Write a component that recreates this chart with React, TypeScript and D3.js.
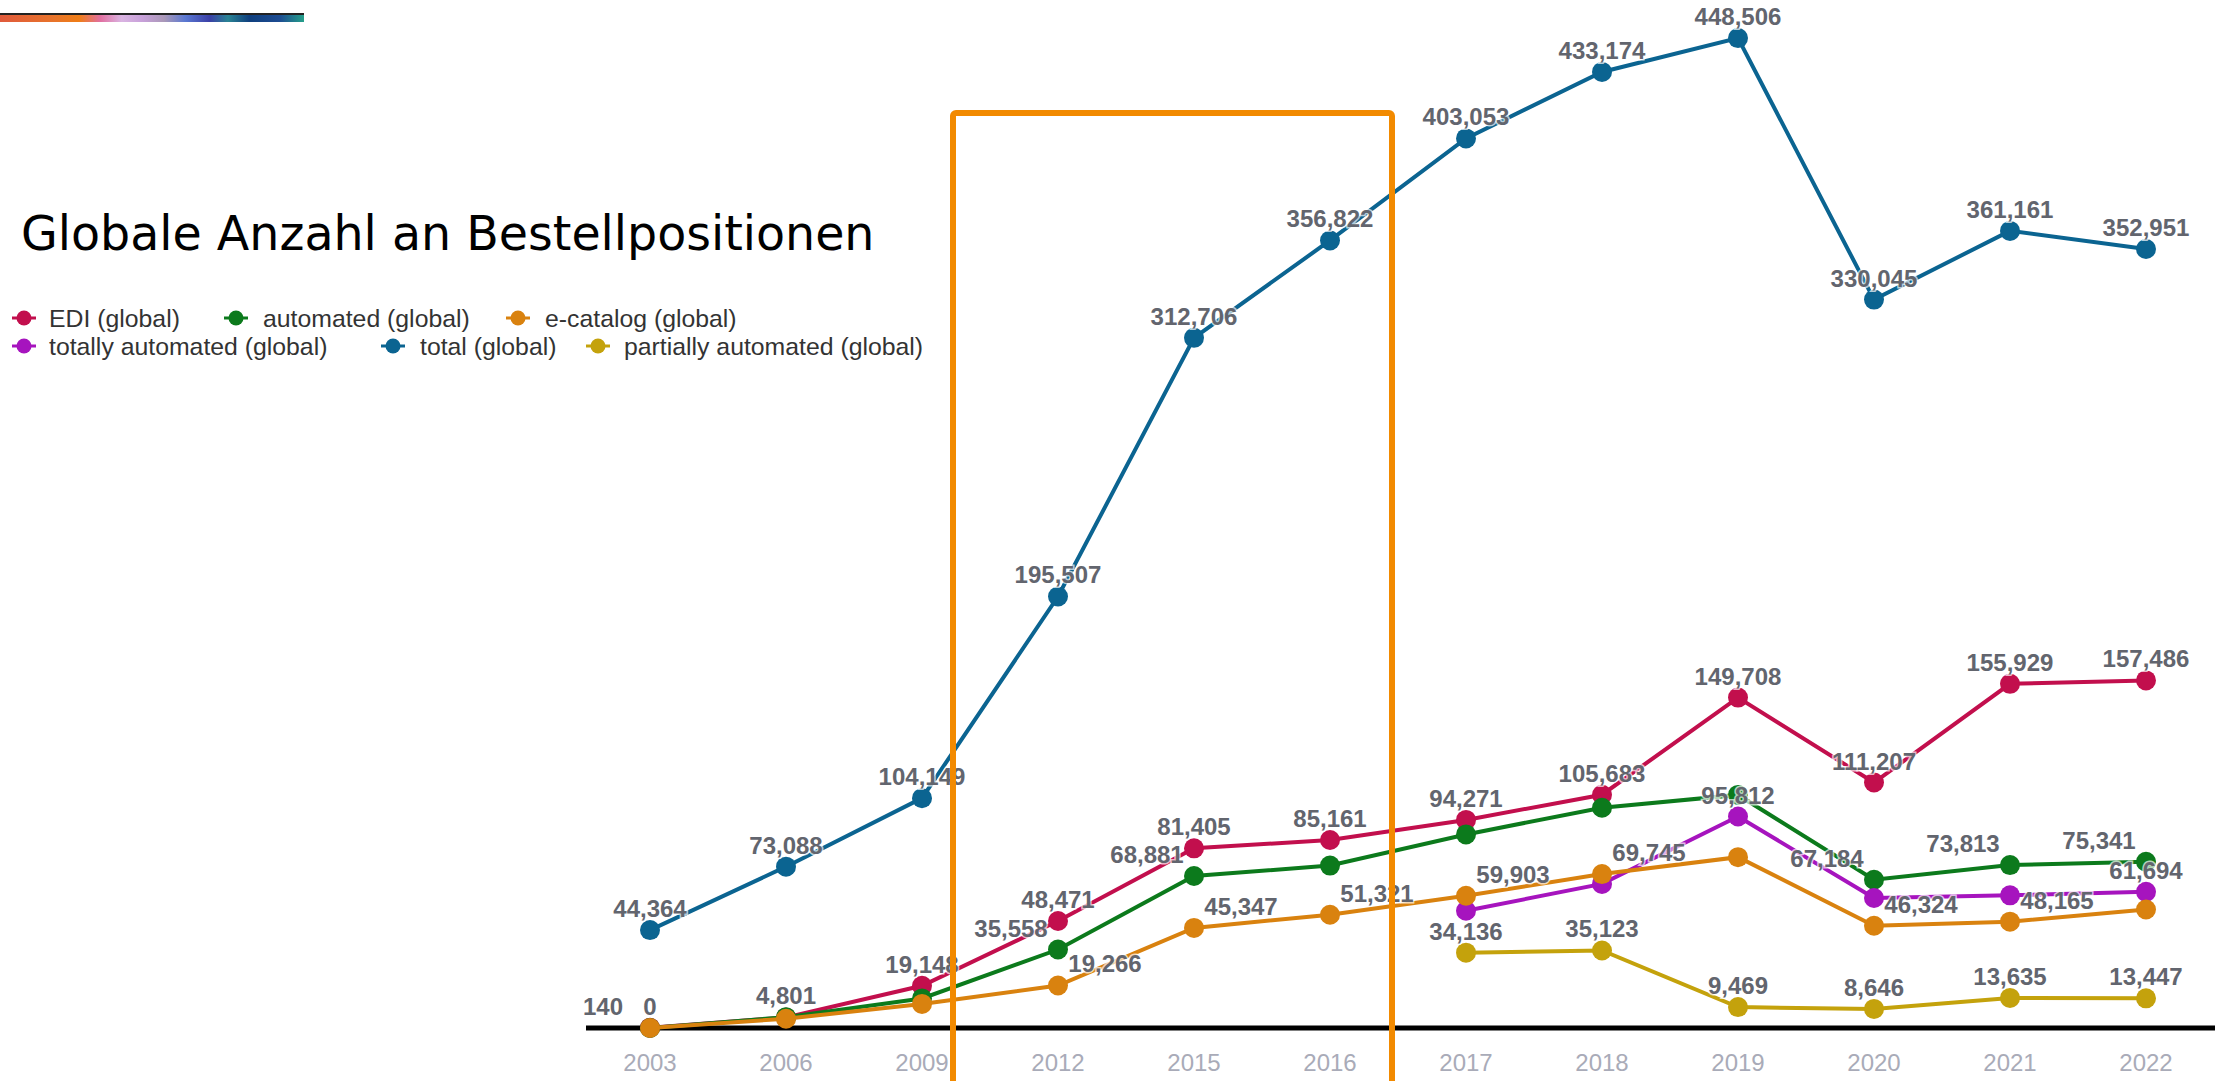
import React, { useEffect } from "react";
import * as d3 from "d3";

const years = ["2003", "2006", "2009", "2012", "2015", "2016", "2017", "2018", "2019", "2020", "2021", "2022"];
const totalGlobal = [44364, 73088, 104149, 195507, 312706, 356822, 403053, 433174, 448506, 330045, 361161, 352951];
const ediGlobal = [140, 4801, 19148, 48471, 81405, 85161, 94271, 105683, 149708, 111207, 155929, 157486];
const automatedGlobal = [0, 4900, 13400, 35558, 68881, 73600, 87700, 99800, 105600, 67184, 73813, 75341];
const eCatalogGlobal = [0, 4200, 10900, 19266, 45347, 51321, 59903, 69745, 77400, 46324, 48165, 53700];
const totallyAutomatedGlobal = [null, null, null, null, null, null, 53100, 65300, 95812, 58900, 60100, 61694];
const partiallyAutomatedGlobal = [null, null, null, null, null, null, 34136, 35123, 9469, 8646, 13635, 13447];

// label placement per point: c = above, l = above-left, r = above-right, "" = hidden
const totalLabels = ["c", "c", "c", "c", "c", "c", "c", "c", "c", "c", "c", "c"];
const ediLabels = ["l", "c", "c", "c", "c", "c", "c", "c", "c", "c", "c", "c"];
const automatedLabels = ["", "", "", "l", "l", "", "", "", "", "l", "l", "l"];
const eCatalogLabels = ["c", "", "", "r", "r", "r", "r", "r", "", "r", "r", ""];
const totallyLabels = ["", "", "", "", "", "", "", "", "c", "", "", "c"];
const partiallyLabels = ["", "", "", "", "", "", "c", "c", "c", "c", "c", "c"];

const seriesNames = [
  "EDI (global)",
  "automated (global)",
  "e-catalog (global)",
  "totally automated (global)",
  "total (global)",
  "partially automated (global)",
];
const seriesColors = ["#c20f4d", "#0c7a1c", "#d9820f", "#a614be", "#0b6491", "#c4a20c"];

type Series = { name: string; color: string; values: (number | null)[]; labels: string[] };

const series: Series[] = [
  { name: seriesNames[4], color: seriesColors[4], values: totalGlobal, labels: totalLabels },
  { name: seriesNames[0], color: seriesColors[0], values: ediGlobal, labels: ediLabels },
  { name: seriesNames[1], color: seriesColors[1], values: automatedGlobal, labels: automatedLabels },
  { name: seriesNames[3], color: seriesColors[3], values: totallyAutomatedGlobal, labels: totallyLabels },
  { name: seriesNames[2], color: seriesColors[2], values: eCatalogGlobal, labels: eCatalogLabels },
  { name: seriesNames[5], color: seriesColors[5], values: partiallyAutomatedGlobal, labels: partiallyLabels },
];

const W = 2215;
const H = 1081;

export default function App() {
  useEffect(() => {
    document.body.style.margin = "0";
    document.body.style.overflow = "hidden";
  }, []);

  const x = d3.scalePoint<string>().domain(years).range([650, 2146]);
  const y = d3.scaleLinear().domain([0, 450000]).range([1028, 34.8]);
  const fmt = d3.format(",");

  const line = d3
    .line<number | null>()
    .defined((d) => d !== null)
    .x((_, i) => x(years[i]) as number)
    .y((d) => y(d as number));

  const labelDx: Record<string, number> = { c: 0, l: -47, r: 47 };

  const legendItems = [
    { idx: 0, mx: 24, tx: 49, ty: 318 },
    { idx: 1, mx: 236, tx: 263, ty: 318 },
    { idx: 2, mx: 518, tx: 545, ty: 318 },
    { idx: 3, mx: 24, tx: 49, ty: 346 },
    { idx: 4, mx: 393, tx: 420, ty: 346 },
    { idx: 5, mx: 598, tx: 624, ty: 346 },
  ];

  const gradStops = [
    ["0%", "#e05a3c"],
    ["18%", "#e8742a"],
    ["26%", "#ef7d16"],
    ["33%", "#e16fa0"],
    ["40%", "#dab4e2"],
    ["47%", "#c7a0d9"],
    ["54%", "#aa98b8"],
    ["61%", "#5a78d2"],
    ["69%", "#3a3fa6"],
    ["75%", "#2a8494"],
    ["82%", "#0f3f7e"],
    ["92%", "#1d4c92"],
    ["100%", "#25a08a"],
  ];

  return (
    <svg width={W} height={H} style={{ position: "absolute", left: 0, top: 0, background: "#fff" }}>
      <defs>
        <linearGradient id="bar" x1="0" x2="1" y1="0" y2="0">
          {gradStops.map(([o, c]) => (
            <stop key={o} offset={o} stopColor={c} />
          ))}
        </linearGradient>
      </defs>
      <rect x={0} y={13} width={304} height={2} fill="#222" />
      <rect x={0} y={15} width={304} height={7} fill="url(#bar)" />

      <text x={21} y={250} fontFamily="DejaVu Sans" fontSize={47.5} fill="#000">
        Globale Anzahl an Bestellpositionen
      </text>

      {legendItems.map((it) => (
        <g key={it.idx}>
          <line x1={it.mx - 12} x2={it.mx + 12} y1={it.ty} y2={it.ty} stroke={seriesColors[it.idx]} strokeWidth={3} />
          <circle cx={it.mx} cy={it.ty} r={7.5} fill={seriesColors[it.idx]} />
          <text
            x={it.tx}
            y={it.ty}
            dy="0.35em"
            fontFamily="Liberation Sans, Arial, sans-serif"
            fontSize={24.8}
            fill="#333"
          >
            {seriesNames[it.idx]}
          </text>
        </g>
      ))}

      {/* x axis */}
      <line x1={586} x2={W} y1={y(0)} y2={y(0)} stroke="#000" strokeWidth={5} />
      {years.map((yr) => (
        <text
          key={yr}
          x={x(yr)}
          y={1071}
          textAnchor="middle"
          fontFamily="Liberation Sans, Arial, sans-serif"
          fontSize={24}
          fill="#a9abb8"
        >
          {yr}
        </text>
      ))}

      {series.map((s) => (
        <g key={s.name}>
          <path d={line(s.values) || ""} fill="none" stroke={s.color} strokeWidth={4} />
          {s.values.map((v, i) =>
            v === null ? null : <circle key={i} cx={x(years[i])} cy={y(v)} r={10} fill={s.color} />
          )}
        </g>
      ))}

      {series.map((s) => (
        <g key={s.name + "-labels"}>
          {s.values.map((v, i) =>
            v === null || !s.labels[i] ? null : (
              <text
                key={i}
                x={(x(years[i]) as number) + labelDx[s.labels[i]]}
                y={y(v) - 13}
                textAnchor="middle"
                fontFamily="Liberation Sans, Arial, sans-serif"
                fontWeight="bold"
                fontSize={24}
                fill="#62656e"
                stroke="#fff"
                strokeWidth={3}
                strokeOpacity={0.7}
                paintOrder="stroke"
              >
                {fmt(v)}
              </text>
            )
          )}
        </g>
      ))}

      <rect x={953} y={113} width={439} height={1100} fill="none" stroke="#f28a00" strokeWidth={6} rx={3} />
    </svg>
  );
}
